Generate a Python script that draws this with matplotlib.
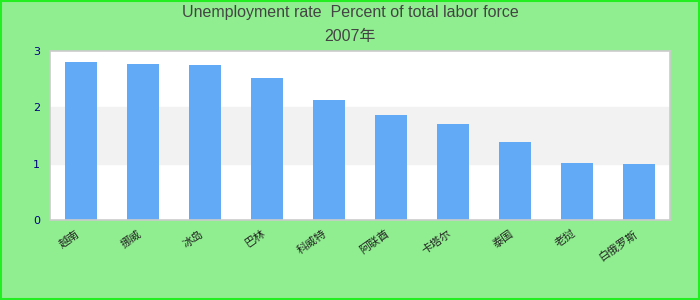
import matplotlib
matplotlib.use("Agg")
import matplotlib.pyplot as plt
from matplotlib.patches import Rectangle

plt.rcParams['font.family'] = ['Liberation Sans', 'Noto Sans CJK SC', 'DejaVu Sans']

# data (2007, percent of total labor force)
countries = ["越南", "挪威", "冰岛", "巴林", "科威特", "阿联酋", "卡塔尔", "泰国", "老挝", "白俄罗斯"]
rates = [2.80, 2.77, 2.75, 2.52, 2.13, 1.87, 1.70, 1.39, 1.02, 1.00]
yticks = [0, 1, 2, 3]

fig = plt.figure(figsize=(7, 3), dpi=100)
fig.patch.set_facecolor("#90ee90")
# bright green frame around the whole chart
fig.patches.append(Rectangle((0.001, 0.002), 0.997, 0.995, transform=fig.transFigure,
                             fill=False, edgecolor="#22ee22", linewidth=1.5))

ax = fig.add_axes([50 / 700, 80 / 300, 620 / 700, 169 / 300])
ax.set_facecolor("white")

# alternating bands
for i in range(len(yticks) - 1):
    if i % 2 == 1:
        ax.axhspan(yticks[i], yticks[i + 1], color="#f2f2f2", zorder=0)

x = list(range(len(countries)))
ax.bar(x, rates, width=0.516, color="#62aaf5", zorder=2)

ax.set_xlim(-0.5, len(countries) - 0.5)
ax.set_ylim(0, 3)
ax.set_yticks(yticks)
ax.set_yticklabels([str(t) for t in yticks], color="#000080", fontsize=8,
                   family=['DejaVu Sans'])
ax.set_xticks(x)
ax.set_xticklabels(countries, rotation=35, ha="right", fontsize=8, color="#222222",
                   family=['Noto Sans CJK SC', 'DejaVu Sans'])
ax.tick_params(length=0, pad=6)
ax.tick_params(axis="y", pad=7)

for s in ax.spines.values():
    s.set_color("#cccccc")
    s.set_linewidth(1.2)

fig.text(0.5, 1 - 12 / 300, "Unemployment rate  Percent of total labor force",
         ha="center", va="center", fontsize=11.5, color="#444444")
fig.text(0.5, 1 - 36 / 300, "2007年", ha="center", va="center", fontsize=11.5, color="#444444")

fig.savefig("out.png", dpi=100, facecolor=fig.get_facecolor())
